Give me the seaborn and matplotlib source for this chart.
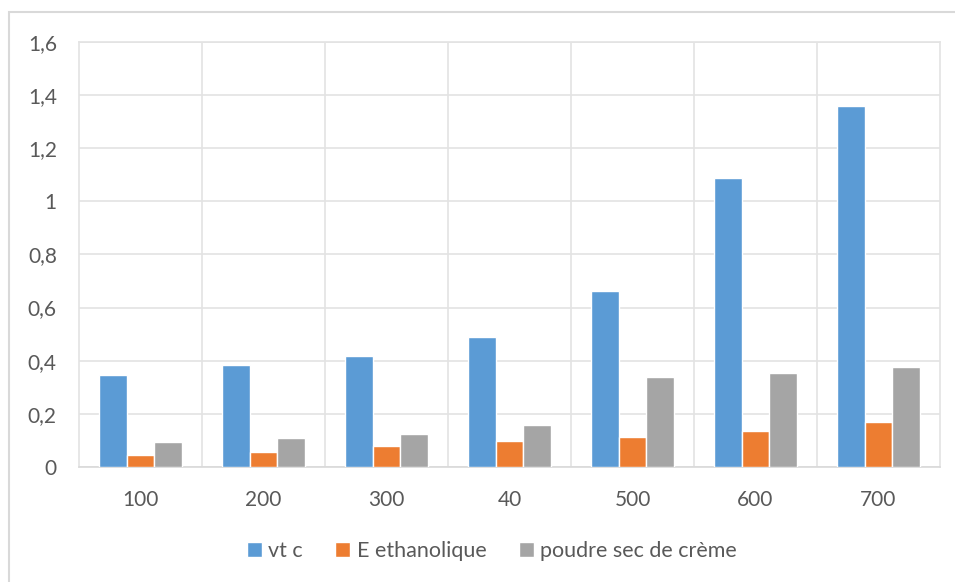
import pandas as pd
import matplotlib.pyplot as plt
import matplotlib.patches as mpatches
import seaborn as sns

# Values
categories = ["100", "200", "300", "40", "500", "600", "700"]
vt_c = [0.344, 0.383, 0.417, 0.490, 0.662, 1.088, 1.359]
e_ethanolique = [0.044, 0.054, 0.079, 0.098, 0.112, 0.136, 0.170]
poudre_creme = [0.092, 0.107, 0.122, 0.156, 0.340, 0.355, 0.374]
series_names = ["vt c", "E ethanolique", "poudre sec de crème"]
y_ticks = [0, 0.2, 0.4, 0.6, 0.8, 1.0, 1.2, 1.4, 1.6]
y_tick_labels = ["0", "0,2", "0,4", "0,6", "0,8", "1", "1,2", "1,4", "1,6"]

colors = ["#5B9BD5", "#ED7D31", "#A5A5A5"]
text_color = "#595959"
grid_color = "#E3E3E3"

# Long-format table for seaborn
df = pd.DataFrame({
    "cat": categories * 3,
    "value": vt_c + e_ethanolique + poudre_creme,
    "serie": [series_names[0]] * 7 + [series_names[1]] * 7 + [series_names[2]] * 7,
})

sns.set_style("white")
plt.rcParams["font.family"] = ["Lato", "DejaVu Sans"]

fig = plt.figure(figsize=(9.55, 5.82), dpi=100)
ax = fig.add_axes([79 / 955, 1 - 466.7 / 582, (940 - 79) / 955, (466.7 - 42.3) / 582])

sns.barplot(data=df, x="cat", y="value", hue="serie", order=categories,
            hue_order=series_names, palette=colors, width=0.667,
            saturation=1, ax=ax, zorder=3)

ax.set_xlim(-0.5, len(categories) - 0.5)
ax.set_ylim(0, 1.6)
ax.set_yticks(y_ticks)
ax.set_yticklabels(y_tick_labels)
ax.set_xlabel("")
ax.set_ylabel("")

# gridlines: horizontal at y ticks, vertical between categories
ax.set_xticks([i + 0.5 for i in range(len(categories) - 1)], minor=True)
ax.grid(axis="y", which="major", color=grid_color, lw=1.2, zorder=0)
ax.grid(axis="x", which="minor", color=grid_color, lw=1.2, zorder=0)
ax.grid(axis="x", which="major", visible=False)
ax.tick_params(which="both", length=0)
ax.tick_params(axis="y", pad=16, labelsize=15, labelcolor=text_color)
ax.tick_params(axis="x", pad=17, labelsize=15, labelcolor=text_color)
for side, sp in ax.spines.items():
    sp.set_visible(True)
    sp.set_color("#D9D9D9" if side == "bottom" else grid_color)
    sp.set_linewidth(1.2)

# legend at the bottom
handles, labels = ax.get_legend_handles_labels()
ax.legend(handles, labels, ncol=3, loc="center",
          bbox_to_anchor=(492 / 955, 1 - 551 / 582), bbox_transform=fig.transFigure,
          frameon=False, handlelength=0.7, handleheight=0.7, handletextpad=0.3,
          columnspacing=1.5, fontsize=15.5, labelcolor=text_color)

# outer chart frame
fig.patches.append(mpatches.Rectangle((9 / 955, -0.1), 1.2, 1 - 12 / 582 + 0.1,
                                      transform=fig.transFigure, fill=False,
                                      edgecolor="#D9D9D9", lw=1.5))

fig.savefig("out.png", dpi=100)
